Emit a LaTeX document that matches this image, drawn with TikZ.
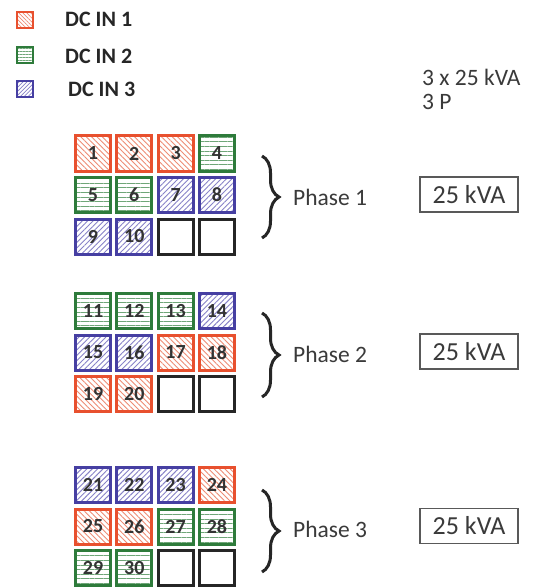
\documentclass[tikz,border=0pt]{standalone}
\usepackage{fontspec}
\setmainfont{Carlito}
\usetikzlibrary{patterns.meta,decorations.pathreplacing}
\definecolor{dcred}{HTML}{E8502E}
\definecolor{dcredl}{HTML}{EE8C74}
\definecolor{dcgreen}{HTML}{2E7B3B}
\definecolor{dcgreenl}{HTML}{6FA678}
\definecolor{dcblue}{HTML}{463FA2}
\definecolor{dcbluel}{HTML}{8782C8}
\definecolor{numgray}{HTML}{333333}
\definecolor{txtgray}{HTML}{3A3A3A}
\tikzset{
  cell/.style={draw, line width=3pt, minimum size=35pt, inner sep=0pt,
    font=\bfseries\fontsize{20}{20}\selectfont, text=numgray},
  tR/.style={cell, draw=dcred, pattern={Lines[angle=-45,distance=3.8pt,line width=0.9pt]}, pattern color=dcredl},
  tG/.style={cell, draw=dcgreen, pattern={Lines[angle=0,distance=4.6pt,line width=0.9pt]}, pattern color=dcgreenl},
  tB/.style={cell, draw=dcblue, pattern={Lines[angle=45,distance=3.8pt,line width=0.9pt]}, pattern color=dcbluel},
  tE/.style={cell, draw=black!85},
  lR/.style={draw=dcred, line width=2pt, minimum size=16pt, inner sep=0pt, pattern={Lines[angle=-45,distance=2.8pt,line width=0.7pt]}, pattern color=dcredl},
  lG/.style={draw=dcgreen, line width=2pt, minimum size=16pt, inner sep=0pt, pattern={Lines[angle=0,distance=3pt,line width=0.7pt]}, pattern color=dcgreenl},
  lB/.style={draw=dcblue, line width=2pt, minimum size=16pt, inner sep=0pt, pattern={Lines[angle=45,distance=2.8pt,line width=0.7pt]}, pattern color=dcbluel},
  legtxt/.style={anchor=west, inner sep=0pt, font=\bfseries\fontsize{22}{22}\selectfont, text=black!85},
  plain/.style={anchor=west, inner sep=0pt, font=\fontsize{23.5}{23.5}\selectfont, text=txtgray},
  kva/.style={draw=black!65, line width=1.3pt, minimum width=98pt, minimum height=35pt, inner sep=0pt,
    font=\fontsize{26}{26}\selectfont, text=txtgray},
  bracestyle/.style={decorate, decoration={brace, amplitude=17pt, aspect=0.5}, line width=3pt, draw=black!85}
}
\begin{document}
\begin{tikzpicture}[x=1pt, y=-1pt]
\useasboundingbox[fill=white] (0,0) rectangle (534,588);
% legend
\node[lR] (l1) at (25,20) {};
\node[lG] (l2) at (25,55) {};
\node[lB] (l3) at (25,89) {};
\node[legtxt] (t1) at (65,19) {DC IN 1};
\node[legtxt] (t2) at (65,56) {DC IN 2};
\node[legtxt] (t3) at (68,89) {DC IN 3};
% header
\node[plain] (h1) at (422,77) {3 x 25 kVA};
\node[plain] (h2) at (422,102) {3 P};
% cells
\foreach \n/\t/\x/\y in {
  1/R/93/153.5, 2/R/134.3/153.5, 3/R/175.6/153.5, 4/G/216.9/153.5,
  5/G/93/195, 6/G/134.3/195, 7/B/175.6/195, 8/B/216.9/195,
  9/B/93/236.5, 10/B/134.3/236.5,
  11/G/93/311, 12/G/134.3/311, 13/G/175.6/311, 14/B/216.9/311,
  15/B/93/352.5, 16/B/134.3/352.5, 17/R/175.6/352.5, 18/R/216.9/352.5,
  19/R/93/394, 20/R/134.3/394,
  21/B/93/485, 22/B/134.3/485, 23/B/175.6/485, 24/R/216.9/485,
  25/R/93/526.5, 26/R/134.3/526.5, 27/G/175.6/526.5, 28/G/216.9/526.5,
  29/G/93/568, 30/G/134.3/568}
  \node[t\t] (c\n) at (\x,\y) {\n};
\node[tE] (e1) at (175.6,236.5) {};
\node[tE] (e2) at (216.9,236.5) {};
\node[tE] (e3) at (175.6,394) {};
\node[tE] (e4) at (216.9,394) {};
\node[tE] (e5) at (175.6,568) {};
\node[tE] (e6) at (216.9,568) {};
% braces
\coordinate (b1t) at (262,156); \coordinate (b1b) at (262,238);
\coordinate (b2t) at (262,313); \coordinate (b2b) at (262,397);
\coordinate (b3t) at (262,490); \coordinate (b3b) at (262,572);
\draw[bracestyle] (b1t) -- (b1b);
\draw[bracestyle] (b2t) -- (b2b);
\draw[bracestyle] (b3t) -- (b3b);
% phase labels
\node[plain] (p1) at (293,197) {Phase 1};
\node[plain] (p2) at (293,354) {Phase 2};
\node[plain] (p3) at (293,529) {Phase 3};
% kVA boxes
\node[kva] (k1) at (469,194.5) {25 kVA};
\node[kva] (k2) at (469,351.5) {25 kVA};
\node[kva] (k3) at (469,526) {25 kVA};
\end{tikzpicture}
\end{document}
